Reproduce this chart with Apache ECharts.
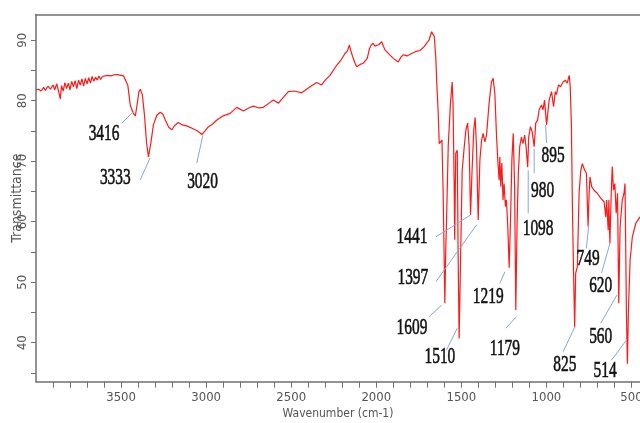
<!DOCTYPE html>
<html>
<head>
<meta charset="utf-8">
<script src="https://cdn.jsdelivr.net/npm/echarts@6/dist/echarts.min.js"></script>
<style>html,body{margin:0;padding:0;background:#fff}#c{width:640px;height:423px}</style>
</head>
<body>
<div id="c"></div>
<script>
const wavenumbers = [4000,3985,3970,3955,3945,3930,3915,3900,3890,3878,3866,3857,3850,3840,3830,3820,3810,3800,3790,3780,3770,3760,3750,3740,3730,3720,3710,3700,3690,3680,3670,3660,3650,3640,3630,3620,3610,3600,3580,3560,3540,3520,3500,3485,
3476,3460,3446,3430,3416,3405,3395,3387,3375,3362,3350,3339,3325,3310,3290,3270,3255,3240,3220,3201,3185,3163,3140,3110,3080,3050,3025,3010,2990,2960,2937,2900,2859,2820,2781,2750,2722,2690,2664,2630,2605,2575,2545,2517,2480,2438,2410,2389,2350,2321,2300,2272,2232,2205,2184,2170,2158,2150,2139,2125,2115,2095,2076,2053,2040,2030,2018,2008,1998,1985,1968,1958,1949,1925,1900,1871,1855,1841,1820,1792,1770,1743,1720,1704,1690,1675,1667,1659,1650,1645,1636,1630,1622,1614,1607,1600,1597,1592,1587,1577,1564,1554,1549,1542,1539,1533,1524,1519,1513,1504,1495,1483,1473,1463,1454,1446,1437,1427,1419,1411,1401,1391,1381,1372,1362,1352,1337,1323,1313,1303,1293,1286,1278,1274,1268,1262,1255,1249,1241,1235,1227,1219,1211,1203,1195,1187,1180,1172,1165,1157,1147,1138,1128,1120,1110,1104,1094,1084,1072,1063,1052,1043,1029,1020,1011,999,984,970,958,948,941,929,917,902,890,878,866,860,853,847,840,834,828,818,808,798,789,775,765,755,749,744,734,720,701,681,661,651,646,637,633,627,619,613,606,598,590,582,575,567,554,544,538,530,524,518,508,495,475,455,450];
const transmittance = [81.8,81.9,81.6,82.2,81.7,82.4,81.9,82.6,81.8,82.8,81.4,80.3,82.5,81.6,83.0,82.0,82.9,81.8,83.2,82.3,83.3,82.0,83.4,82.6,83.6,82.4,83.7,82.8,83.8,82.9,84.0,83.2,83.9,83.4,84.1,83.5,84.0,83.8,84.2,84.1,84.3,84.3,84.2,84.1,
84.2,82.5,79.3,78.0,77.5,79.5,81.5,81.9,81.0,77.5,73.0,70.7,73.0,76.0,77.6,78.1,77.8,76.8,75.6,75.2,75.9,76.4,76.0,75.8,75.4,75.0,74.4,74.9,75.6,76.2,76.8,77.5,77.9,78.9,78.3,78.8,79.1,78.8,78.9,79.6,80.1,79.6,80.6,81.5,81.6,81.3,81.9,82.3,83.0,82.6,83.4,84.2,85.9,86.8,87.8,88.2,89.2,88.3,87.3,86.2,85.6,86.0,86.2,87.0,88.6,89.2,89.5,89.0,88.9,89.3,89.75,89.0,88.4,87.7,87.0,86.4,87.2,87.6,87.4,87.8,88.1,88.3,88.9,89.5,90.0,91.4,91.0,90.6,87.0,83.2,78.0,72.9,72.6,73.5,64.7,52.0,46.5,55.0,60.3,72.6,79.6,83.1,79.6,65.8,57.0,71.3,71.8,54.8,40.7,54.8,68.5,72.4,75.2,76.3,72.4,61.1,68.5,75.2,77.2,72.4,60.3,70.2,73.5,74.6,73.2,74.3,79.6,83.1,83.7,81.2,74.0,70.2,66.9,70.7,65.8,69.7,63.6,66.3,62.5,63.6,59.2,52.4,60.3,70.2,74.6,65.8,45.4,60.3,68.0,72.4,74.0,72.9,74.3,72.5,69.0,74.0,75.7,74.9,72.4,76.3,76.8,78.5,79.3,78.5,80.1,76.0,80.1,81.5,79.0,81.5,81.0,82.6,82.3,83.1,83.4,82.9,84.2,82.3,75.7,61.9,50.9,42.6,51.5,52.6,64.7,68.5,69.6,68.5,68.0,59.2,64.7,67.4,65.8,65.2,64.7,63.9,63.3,60.8,63.6,58.6,63.6,56.4,64.7,69.1,65.2,66.3,61.4,64.7,46.5,59.2,63.6,64.7,66.3,45.4,36.5,45.4,53.7,57.5,59.7,60.6,60.8];

const xTickValues = [500,600,700,800,900,1000,1100,1200,1300,1400,1500,1600,1700,1800,1900,2000,2100,2200,2300,2400,2500,2600,2700,2800,2900,3000,3100,3200,3300,3400,3500,3600,3700,3800,3900];
const xLabelValues = [500,1000,1500,2000,2500,3000,3500];
const yTickValues = [35,40,45,50,55,60,65,70,75,80,85,90];
const yLabelValues = [40,50,60,70,80,90];

// peak annotations: label text, label anchor (wavenumber, %T), leader line start and end
const peakNames = ['3416','3333','3020','1441','1397','1609','1510','1219','1179','1098','980','895','749','620','560','825','514'];
const peakTextAt = [[3600,74.5],[3534,67.2],[3021,66.6],[1790,57.5],[1785,50.7],[1790,42.4],[1626,37.6],[1342,47.6],[1244,39.0],[1049,58.8],[1022,65.1],[961,70.9],[755,53.8],[681,49.3],[681,40.9],[892,36.3],[655,35.3]];
const leaderFrom = [[3495,76.3],[3388,66.9],[3055,69.7],[1649,57.5],[1649,50.1],[1689,44.3],[1587,38.8],[1274,49.8],[1238,42.4],[1107,61.4],[1072,68.0],[999,73.0],[765,55.6],[676,51.5],[681,43.2],[902,38.5],[618,37.1]];
const leaderTo = [[3427,78.2],[3330,70.5],[3019,74.3],[1446,61.1],[1410,59.5],[1616,46.2],[1524,42.4],[1244,51.7],[1176,44.3],[1107,68.5],[1072,72.1],[1005,76.0],[751,59.5],[627,56.4],[585,47.9],[833,42.6],[530,40.4]];

const axisColor = '#707070';
const labelFont = "'Liberation Sans Narrow','DejaVu Sans Condensed','Liberation Sans',Arial,sans-serif";

const chart = echarts.init(document.getElementById('c'), null, {renderer: 'canvas'});
const option = {
  animation: false,
  backgroundColor: '#fff',
  grid: {left: 36, right: 0, top: 14.5, bottom: 41.3, containLabel: false, outerBoundsMode: 'none'},
  xAxis: [{
    type: 'value', inverse: true, min: 450, max: 4000,
    name: 'Wavenumber (cm-1)', nameLocation: 'middle', nameGap: 26, nameMoveOverlap: false,
    nameTextStyle: {color: '#555', fontSize: 12, fontFamily: labelFont},
    axisLine: {show: true, onZero: false, lineStyle: {color: axisColor, width: 1.5}},
    axisTick: {show: true, length: 6, lineStyle: {color: axisColor, width: 1}, customValues: xTickValues},
    axisLabel: {color: '#555', fontSize: 13, fontFamily: labelFont, margin: 9, customValues: xLabelValues, formatter: v => String(v)},
    splitLine: {show: false}
  }, {
    type: 'value', position: 'top', inverse: true, min: 450, max: 4000,
    axisLine: {show: true, onZero: false, lineStyle: {color: axisColor, width: 1.5}},
    axisTick: {show: false}, axisLabel: {show: false}, splitLine: {show: false}
  }],
  yAxis: {
    type: 'value', min: 33.55, max: 94.25,
    name: 'Transmittance', nameLocation: 'middle', nameGap: 12, nameRotate: 90, nameMoveOverlap: false,
    nameTextStyle: {color: '#555', fontSize: 14, fontFamily: labelFont},
    axisLine: {show: true, onZero: false, lineStyle: {color: axisColor, width: 1.5}},
    axisTick: {show: true, length: 5, lineStyle: {color: axisColor, width: 1}, customValues: yTickValues},
    axisLabel: {color: '#555', fontSize: 13, fontFamily: labelFont, rotate: 90, margin: 7, customValues: yLabelValues, formatter: v => String(v)},
    splitLine: {show: false}
  },
  series: [{
    type: 'line',
    data: wavenumbers.map((w, i) => [w, transmittance[i]]),
    showSymbol: false, symbol: 'none',
    lineStyle: {color: '#ff1a1a', width: 1.2},
    z: 3
  }]
};
chart.setOption(option);

const px = (p) => chart.convertToPixel({xAxisIndex: 0, yAxisIndex: 0}, p);
const graphics = [];
peakNames.forEach((name, i) => {
  const a = px(leaderFrom[i]), b = px(leaderTo[i]);
  graphics.push({type: 'line', shape: {x1: a[0], y1: a[1], x2: b[0], y2: b[1]},
    style: {stroke: '#8aa6d4', lineWidth: 1}, z: 10, silent: true});
  const t = px(peakTextAt[i]);
  graphics.push({type: 'text', x: t[0], y: t[1], scaleX: 0.67, scaleY: 1, z: 11, silent: true,
    style: {text: name, fill: '#111', stroke: '#111', lineWidth: 0.6, font: "23px 'Liberation Serif', serif", align: 'center', verticalAlign: 'middle'}});
});
chart.setOption({graphic: graphics});
</script>
</body>
</html>
